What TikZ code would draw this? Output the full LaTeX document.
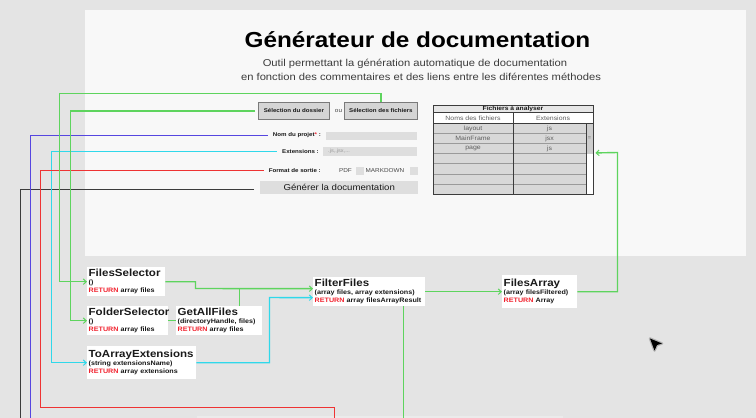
\documentclass[tikz,border=0pt]{standalone}
\usepackage{fontspec}
\setmainfont{Liberation Sans}[FakeStretch=1.12]
\usetikzlibrary{arrows.meta,calc}

\definecolor{bgc}{HTML}{E4E4E4}
\definecolor{panel}{HTML}{F8F8F8}
\definecolor{lgreen}{HTML}{5ED45E}
\definecolor{lpurple}{HTML}{5646E0}
\definecolor{lcyan}{HTML}{30D8EA}
\definecolor{lred}{HTML}{EE3333}
\definecolor{lblack}{HTML}{3C3C3C}
\definecolor{retred}{HTML}{F2232F}
\definecolor{ink}{HTML}{1A1A1A}
\definecolor{field}{HTML}{DEDEDE}
\definecolor{btn}{HTML}{D5D5D5}
\definecolor{btnline}{HTML}{7A7A7A}
\definecolor{cell}{HTML}{D8D8D8}
\definecolor{rowline}{HTML}{9A9A9A}
\definecolor{tblline}{HTML}{3C3C3C}
\definecolor{tbltitle}{HTML}{E6E6E6}
\definecolor{strip}{HTML}{EBEBEB}

% body of a function card: name, arguments, return value
\newcommand\fnbody[3]{{\fontsize{10.3}{8}\selectfont #1}\\#2\\\textcolor{retred}{RETURN} #3}

\tikzset{
  wire/.style={line width=1.4pt},
  arr/.style={-{Straight Barb[length=3pt,width=5.5pt,line width=1pt]}},
  fnbox/.style={fill=white, anchor=north west, align=left, inner xsep=1.5pt,
    inner ysep=1pt, font=\fontsize{6.4}{8}\selectfont\bfseries, text=ink},
  lbl/.style={font=\fontsize{5.5}{6}\selectfont\bfseries, text=ink, inner sep=0pt},
  opt/.style={font=\fontsize{5.7}{6}\selectfont, text=ink!80, inner sep=0pt},
  button/.style={draw=btnline, fill=btn, line width=0.8pt, inner sep=0pt,
    anchor=north west, font=\fontsize{5.5}{6}\selectfont\bfseries, text=ink},
  field/.style={fill=field, inner sep=0pt, anchor=north west},
  tbltxt/.style={font=\fontsize{6.2}{7}\selectfont, text=ink!70, inner sep=0pt},
}

\begin{document}
\begin{tikzpicture}[x=1pt,y=-1pt]
\useasboundingbox (0,0) rectangle (756,418);
\fill[bgc] (0,0) rectangle (756,418);

% form panel
\fill[panel] (85,10) rectangle (746,256);
\fill[strip] (197,416) rectangle (563,418);

% heading
\node[font=\fontsize{21.7}{24}\selectfont\bfseries, text=black, anchor=base, inner sep=0pt]
  (title) at (417.5,47) {Générateur de documentation};
\node[font=\fontsize{10}{12}\selectfont, text=ink!85, anchor=base, inner sep=0pt]
  (sub1) at (415,66) {Outil permettant la génération automatique de documentation};
\node[font=\fontsize{10}{12}\selectfont, text=ink!85, anchor=base, inner sep=0pt]
  (sub2) at (421,80) {en fonction des commentaires et des liens entre les diférentes méthodes};

% form controls
\node[button, minimum width=71pt, minimum height=17pt] (seldos) at (258,102) {Sélection du dossier};
\node[opt] (ou) at (338.5,111) {ou};
\node[button, minimum width=73pt, minimum height=17pt] (selfich) at (344,102) {Sélection des fichiers};

\node[lbl, anchor=east] (nom) at (321,135.5) {Nom du projet\textcolor{retred}{*} :};
\node[field, minimum width=91pt, minimum height=8.5pt] (nomf) at (326,131.5) {};

\node[lbl, anchor=east] (ext) at (319,151.5) {Extensions :};
\node[field, minimum width=94pt, minimum height=9pt] (extf) at (323,147) {};
\node[font=\fontsize{5}{6}\selectfont, text=ink!45, inner sep=0pt, anchor=west] (ph) at (328,151.5) {.js,.jsx,...};

\node[lbl, anchor=east] (fmt) at (321,170.5) {Format de sortie :};
\node[opt] (pdf) at (345.5,170.5) {PDF};
\node[field, minimum width=7.5pt, minimum height=8pt] (pdfbox) at (356,166.5) {};
\node[opt] (md) at (385,170.5) {MARKDOWN};
\node[field, minimum width=7.5pt, minimum height=8pt] (mdbox) at (410,166.5) {};

\node[field, minimum width=158pt, minimum height=13pt, font=\fontsize{8.6}{9}\selectfont, text=ink]
  (gen) at (260,181) {Générer la documentation};

% file table
\fill[tbltitle] (433,105) rectangle (593,112.5);
\fill[white] (433,112.5) rectangle (593,123.3);
\fill[cell] (433,123.3) rectangle (586,194);
\fill[white] (586,123.3) rectangle (593,194);
\fill[cell!95!black] (586,123.3) rectangle (593,153.6);
\foreach \r in {133.4,143.5,153.6,163.7,173.8,183.9}
  \draw[rowline, line width=0.6pt] (433,\r) -- (586,\r);
\draw[tblline, line width=0.8pt] (433,112.5) -- (593,112.5) (433,123.3) -- (593,123.3);
\draw[tblline, line width=0.9pt] (513,112.5) -- (513,194) (586,123.3) -- (586,194);
\node[draw=tblline, line width=0.9pt, minimum width=160pt, minimum height=89pt,
  anchor=north west, inner sep=0pt] (tbl) at (433,105) {};
\node[tbltxt, font=\fontsize{6}{7}\selectfont\bfseries, text=ink] (tblhead) at (513,108.9) {Fichiers à analyser};
\node[tbltxt] (hname) at (473,118) {Noms des fichiers};
\node[tbltxt] (hext) at (553,118) {Extensions};
\node[tbltxt] (r1a) at (473,128.4) {layout};
\node[tbltxt] (r1b) at (549.5,128.4) {js};
\node[tbltxt] (r2a) at (473,138.5) {MainFrame};
\node[tbltxt] (r2b) at (549.5,138.5) {jsx};
\node[tbltxt] (r3a) at (473,148.6) {page};
\node[tbltxt] (r3b) at (549.5,148.6) {js};
\node[tbltxt, font=\fontsize{5}{6}\selectfont] (thumb) at (589.5,138) {=};

% function cards
\node[fnbox, text width=75pt, minimum height=29pt] (fsel) at (87,267) {\fnbody{FilesSelector}{()}{array files}};
\node[fnbox, text width=78pt, minimum height=29pt] (fold) at (87,306) {\fnbody{FolderSelector}{()}{array files}};
\node[fnbox, text width=83pt, minimum height=29pt] (gaf) at (176,306) {\fnbody{GetAllFiles}{(directoryHandle, files)}{array files}};
\node[fnbox, text width=106pt, minimum height=33pt] (toarr) at (87,346) {\fnbody{ToArrayExtensions}{(string extensionsName)}{array extensions}};
\node[fnbox, text width=109pt, minimum height=29pt] (filt) at (313,277) {\fnbody{FilterFiles}{(array files, array extensions)}{array filesArrayResult}};
\node[fnbox, text width=72pt, minimum height=33pt] (farr) at (502,275) {\fnbody{FilesArray}{(array filesFiltered)}{Array}};

% bend points and loose ends
\coordinate (kEnd) at (20.5,418);
\coordinate (pEnd) at (30.5,418);
\coordinate (gOut) at (59.5,93.5);
\coordinate (rTurn) at (40.5,407.5);
\coordinate (rEnd) at (334.5,418);
\coordinate (jA) at (195.5,288.5);
\coordinate (jB) at (239.5,288.5);
\coordinate (cB) at (269.5,297.5);
\coordinate (gEnd) at (403.5,418);
\coordinate (aR) at (617.5,152.5);

% connectors
\draw[wire, lblack, shorten <=6pt] ([yshift=-2pt]gen.west) -| (kEnd);
\draw[wire, lpurple, shorten <=5pt] (nom.west) -| (pEnd);
\draw[wire, lcyan, arr, shorten <=5pt] (ext.west) -| ([xshift=-35.5pt]toarr.west) -- (toarr.west);
\draw[wire, lred, shorten <=5pt] (fmt.west) -| (rTurn) -| (rEnd);
\draw[wire, lgreen, arr] (selfich.north) |- (gOut) |- (fsel.west);
\draw[wire, lgreen, arr, shorten <=3pt] (seldos.west) -| ([xshift=-16.5pt]fold.west) -- (fold.west);
\draw[wire, lgreen, arr] (fsel.east) -| (jA) -- ([yshift=3pt]filt.west);
\draw[wire, lgreen] (jB |- gaf.north) -- (jB);
\draw[wire, lgreen] (fold.east) -- (gaf.west);
\draw[wire, lcyan, arr] (toarr.east) -| (cB) -- ([yshift=-6pt]filt.west);
\draw[wire, lgreen, arr] (filt.east) -- (farr.west);
\draw[wire, lgreen] (filt.south -| gEnd) -- (gEnd);
\draw[wire, lgreen, arr, shorten >=1.5pt] (farr.east) -| (aR) -- ([yshift=-3pt]tbl.east);

% pointer
\draw[black!30, line width=2.5pt, line join=round]
  (650,338.5) -- (662,343.5) -- (657,345) -- (654.5,350.5) -- cycle;
\fill[black] (650,338.5) -- (662,343.5) -- (657,345) -- (654.5,350.5) -- cycle;
\end{tikzpicture}
\end{document}
